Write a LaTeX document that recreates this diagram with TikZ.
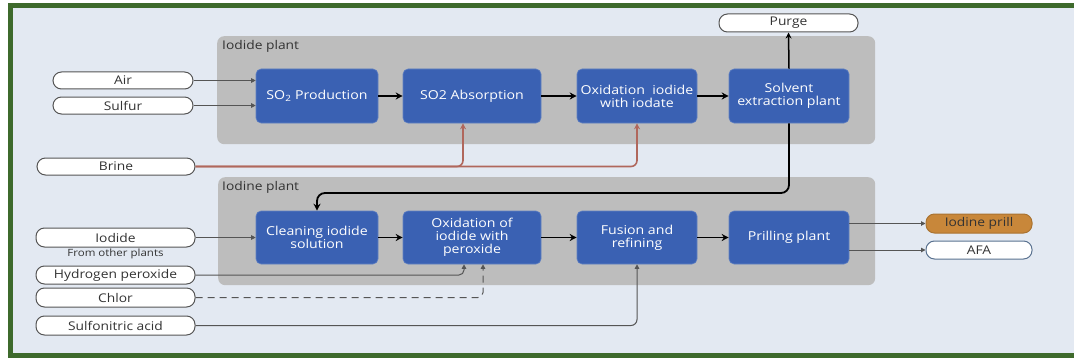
\documentclass[tikz,border=0pt]{standalone}
\usepackage{fontspec}
\setmainfont[FakeStretch=1.15]{Open Sans}
\usetikzlibrary{arrows.meta}
\definecolor{bgc}{HTML}{E3E9F2}
\definecolor{framec}{HTML}{3E6A2C}
\definecolor{grpc}{HTML}{BDBDBD}
\definecolor{bluc}{HTML}{3A61B3}
\definecolor{brinec}{HTML}{B0675C}
\definecolor{prillc}{HTML}{C8873A}
\definecolor{afac}{HTML}{5A7290}
\definecolor{txtc}{HTML}{333333}
\definecolor{linec}{HTML}{555555}
\tikzset{
  grpbox/.style={fill=grpc, rounded corners=7pt, inner sep=0pt, anchor=north west},
  grplabel/.style={text=txtc, font=\fontsize{12}{13}\selectfont, inner sep=0pt, anchor=north west},
  procbox/.style={fill=bluc, draw=bluc!80!white, line width=0.6pt, rounded corners=5pt, text=white, align=center,
    font=\fontsize{12.3}{13}\selectfont, inner sep=0pt},
  inbox/.style={fill=white, draw=linec, line width=1pt, rounded corners=8.5pt, text=txtc,
    font=\fontsize{12}{13}\selectfont, inner sep=0pt, minimum height=18pt},
  thinarrow/.style={draw=linec, line width=1pt, -{Triangle[length=4.5pt,width=4.5pt]}},
  thickarrow/.style={draw=black, line width=1.8pt, -{Stealth[length=7pt,width=7pt]}},
  brinearrow/.style={draw=brinec, line width=1.6pt, rounded corners=6pt, -{Stealth[length=6pt,width=6pt]}},
}
\begin{document}
\begin{tikzpicture}[x=1pt,y=-1pt]
\useasboundingbox (0,0) rectangle (1074,361);
\fill[white] (0,0) rectangle (1074,361);
\begin{scope}
\clip (0,0) rectangle (1074,361);
\draw[framec, line width=5pt, fill=bgc] (10.5,5.5) rectangle (1085,355.5);
\end{scope}
% groups
\node[grpbox, minimum width=658pt, minimum height=108pt] (gI) at (217,36) {};
\node[grplabel] (lI) at (222,40) {Iodide plant};
\node[grpbox, minimum width=657pt, minimum height=108pt] (gN) at (218,177) {};
\node[grplabel] (lN) at (222,181) {Iodine plant};
% process boxes
\node[procbox, minimum width=122pt, minimum height=54pt] (sp) at (317,96) {SO\textsubscript{2} Production};
\node[procbox, minimum width=138pt, minimum height=54pt] (sa) at (472,96) {SO2 Absorption};
\node[procbox, minimum width=120pt, minimum height=54pt] (oi) at (637,96) {Oxidation\ \ iodide\\with iodate};
\node[procbox, minimum width=120pt, minimum height=54pt] (se) at (789,96) {Solvent\\extraction plant};
\node[procbox, minimum width=122pt, minimum height=53pt] (cl) at (317,237.5) {Cleaning iodide\\solution};
\node[procbox, minimum width=138pt, minimum height=53pt] (ox) at (472,237.5) {Oxidation of\\iodide with\\peroxide};
\node[procbox, minimum width=120pt, minimum height=53pt] (fu) at (637,237.5) {Fusion and\\refining};
\node[procbox, minimum width=120pt, minimum height=53pt] (pr) at (789,237.5) {Prilling plant};
% inputs
\node[inbox, minimum width=140pt, minimum height=17pt] (air) at (123,80.5) {Air};
\node[inbox, minimum width=140pt, minimum height=17pt] (sul) at (123,105.5) {Sulfur};
\node[inbox, minimum width=158pt, minimum height=17pt] (bri) at (116,166.5) {Brine};
\node[inbox, minimum width=159pt, minimum height=19pt] (iod) at (115.5,237.5) {Iodide};
\node[text=txtc, font=\fontsize{10}{11}\selectfont, inner sep=0pt] (fop) at (115.5,254) {From other plants};
\node[inbox, minimum width=159pt] (hp) at (115.5,275) {Hydrogen peroxide};
\node[inbox, minimum width=159pt, minimum height=19pt] (ch) at (115.5,297.5) {Chlor};
\node[inbox, minimum width=159pt, minimum height=19pt] (sn) at (115.5,325.5) {Sulfonitric acid};
% outputs
\node[inbox, minimum width=139pt] (pu) at (788.5,23) {Purge};
\node[inbox, fill=prillc, draw=prillc!85!black, minimum width=106pt, minimum height=19pt] (ip) at (979,223.5) {Iodine prill};
\node[inbox, draw=afac, minimum width=106pt] (afa) at (979,250) {AFA};
% connectors
\draw[thinarrow] (air.east) -- (air.east -| sp.west);
\draw[thinarrow] (sul.east) -- (sul.east -| sp.west);
\draw[thickarrow] (sp) -- (sa);
\draw[thickarrow] (sa) -- (oi);
\draw[thickarrow] (oi) -- (se);
\draw[thickarrow, line width=1.5pt, -{Stealth[length=6pt,width=6pt]}] (se.north) -- (pu.south);
\coordinate (loopc) at (317,193);
\draw[thickarrow, rounded corners=8pt] (se.south) |- (loopc) -- (cl.north);
\draw[brinearrow] (bri.east) -| ([xshift=-9pt]sa.south);
\draw[brinearrow] (bri.east) -| (oi.south);
\draw[thinarrow] (iod.east) -- (iod.east -| cl.west);
\draw[thickarrow] (cl) -- (ox);
\draw[thickarrow] (ox) -- (fu);
\draw[thickarrow] (fu) -- (pr);
\draw[thinarrow, rounded corners=5pt] (hp.east) -| ([xshift=-8pt]ox.south);
\draw[thinarrow, dashed, dash pattern=on 7pt off 5pt, rounded corners=5pt] (ch.east) -| ([xshift=11pt]ox.south);
\draw[thinarrow, rounded corners=6pt] (sn.east) -| (fu.south);
\draw[thinarrow] (ip.west -| pr.east) -- (ip.west);
\draw[thinarrow] (afa.west -| pr.east) -- (afa.west);
\end{tikzpicture}
\end{document}
